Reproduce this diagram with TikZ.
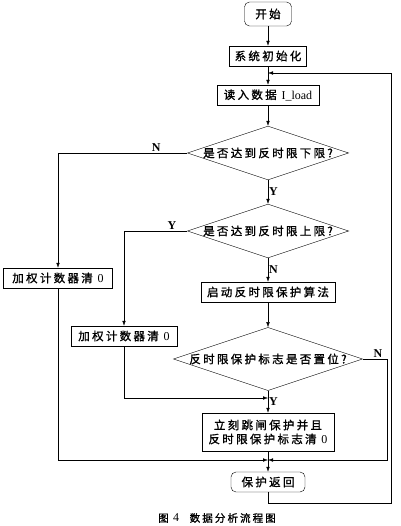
\documentclass[tikz,border=0pt]{standalone}
\usepackage{fontspec}
\setmainfont{Liberation Serif}
\newfontfamily\cjk[LetterSpace=20,FakeBold=1.2]{Noto Sans CJK SC}
\usepackage{tikz}
\usetikzlibrary{positioning}
\usetikzlibrary{shapes.geometric,calc,arrows.meta}
\tikzset{
	>={Latex[length=5pt,width=3.5pt]},
	line width=0.8pt,
	box/.style = {rectangle, draw, inner sep=2pt, minimum height=20pt,
	 font=\cjk\fontsize{11.5}{14}\selectfont, align=center},
	term/.style = {box, rounded corners=5pt},
	decide/.style = {diamond, draw, aspect=3, inner sep=0pt,
	 font=\cjk\fontsize{11.5}{14}\selectfont},
	yn/.style = {font=\bfseries\fontsize{12}{14}\selectfont, inner sep=1pt},
}
\newcommand{\lat}[1]{{\rmfamily\fontsize{12}{14}\selectfont #1}}

\begin{document}
\begin{tikzpicture}[x=1pt,y=-1pt]
\useasboundingbox (0,0) rectangle (400,526);
               % main column
               \node (Start) [term, minimum width=47pt, minimum height=24pt] at (268,14) {开始};
               \node (Init) [box, minimum width=77pt] at (268,56) {系统初始化};
               \node (Read) [box, minimum width=102pt] at (268,95) {读入数据 \lat{I\_load}};
               \node (LowLimit) [decide] at (268,153) {是否达到反时限下限?};
               \node (UpLimit) [decide] at (268,231) {是否达到反时限上限?};
               \node (Algo) [box, minimum width=134pt] at (268,292) {启动反时限保护算法};
               \node (FlagSet) [decide] at (268,359) {反时限保护标志是否置位?};
               \node (Trip) [box, minimum width=132pt, minimum height=38pt] at (268,432)
                 {立刻跳闸保护并且\\反时限保护标志清 \lat{0}};
               \node (Return) [term, minimum width=74pt] at (268,482) {保护返回};
               % side boxes
               \node (ClearA) [box, minimum width=109pt] at (58,278) {加权计数器清 \lat{0}};
               \node (ClearB) [box, minimum width=106pt] at (124,336) {加权计数器清 \lat{0}};
               % junctions
               \coordinate (LoopIn) at (268,73);
               \coordinate (JoinB) at (268,398);
               \coordinate (JoinEnd) at (268,460);
               \coordinate (LoopCorner) at (391,503);
               \coordinate (FlagRight) at (387,359);
               \node (Caption) [font=\cjk\fontsize{10.5}{12}\selectfont] at (217,518) {图 \lat{4}\quad 数据分析流程图};

               \draw[->] (Start) -- (Init);
               \draw[->] (Init) -- (Read);
               \draw[->] (Read) -- (LowLimit);
               \draw[->] (LowLimit.west) -| node[yn, pos=0.12, above] {N} (ClearA.north);
               \draw[->] (LowLimit.south) -- node[yn, right] {Y} (UpLimit.north);
               \draw[->] (UpLimit.west) -| node[yn, pos=0.12, above] {Y} (ClearB.north);
               \draw[->] (UpLimit.south) -- node[yn, right] {N} (Algo.north);
               \draw[->] (Algo) -- (FlagSet);
               \draw[->] (FlagSet.south) -- node[yn, right] {Y} (Trip.north);
               \draw[->] (ClearB.south) |- (JoinB);
               \draw[->] (FlagSet.east) -- node[yn, above right, pos=0.4] {N} (FlagRight) |- (JoinEnd);
               \draw[->] (ClearA.south) |- (JoinEnd);
               \draw[->] (Trip) -- (Return);
               \draw[->] (Return.south) |- (LoopCorner) |- (LoopIn);
\end{tikzpicture}
\end{document}
